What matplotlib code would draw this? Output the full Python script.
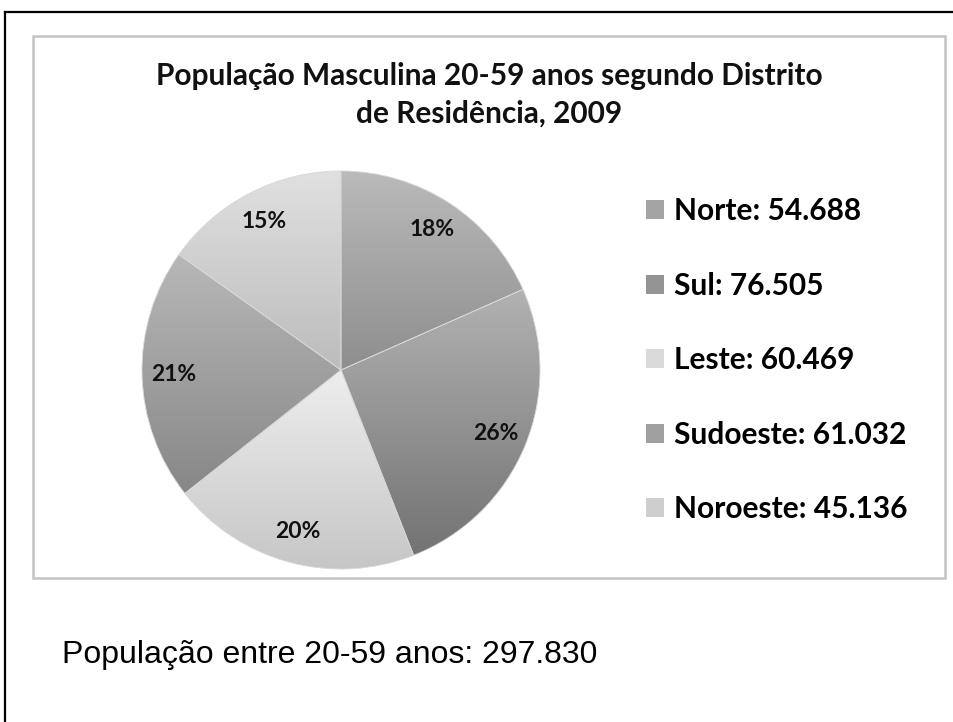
import numpy as np
import matplotlib
matplotlib.use("Agg")
import matplotlib.pyplot as plt
from matplotlib.patches import Rectangle, Patch
from matplotlib.colors import LinearSegmentedColormap
from matplotlib.lines import Line2D

# data
districts = ["Norte", "Sul", "Leste", "Sudoeste", "Noroeste"]
population = [54688, 76505, 60469, 61032, 45136]
pct_labels = ["18%", "26%", "20%", "21%", "15%"]  # as printed on the chart
total_label = "População entre 20-59 anos: 297.830"
title = "População Masculina 20-59 anos segundo Distrito\nde Residência, 2009"

# gradient (top colour, bottom colour) per slice
grad_top = ["#bababa", "#b2b2b2", "#eeeeee", "#b8b8b8", "#e0e0e0"]
grad_bot = ["#8e8e8e", "#737373", "#c6c6c6", "#878787", "#bcbcbc"]
legend_col = ["#a4a4a4", "#949494", "#dadada", "#a0a0a0", "#cecece"]

W, H = 954, 722
fig = plt.figure(figsize=(W / 100, H / 100), dpi=100)


def px(x, y):
    # pixel coords (top-left origin) -> figure fraction
    return x / W, 1 - y / H


# outer black frame (top and left edges)
fig.add_artist(Line2D([5 / W, 1], [1 - 12 / H, 1 - 12 / H], color="black", lw=1.6))
fig.add_artist(Line2D([5 / W, 5 / W], [0, 1 - 12 / H], color="black", lw=1.6))

# chart box
x0, y0 = px(33, 578)
fig.add_artist(Rectangle((x0, y0), (945 - 33) / W, (578 - 36) / H,
                         transform=fig.transFigure, fill=False,
                         edgecolor="#c4c4c4", lw=1.8))

# pie
cx, cy, r = 341, 370, 199
ax = fig.add_axes([(cx - r) / W, (H - cy - r) / H, 2 * r / W, 2 * r / H])
wedges, texts = ax.pie(population, labels=pct_labels, startangle=90, counterclock=False,
                       radius=1, labeldistance=0.84,
                       wedgeprops=dict(linewidth=0.6, edgecolor="#d8d8d8"),
                       textprops=dict(fontfamily="Lato", fontweight="bold",
                                      fontsize=16.5, color="#111111",
                                      ha="center", va="center"))

for i, w in enumerate(wedges):
    ang = np.radians(np.linspace(w.theta1, w.theta2, 200))
    xs = np.concatenate([[0], np.cos(ang)])
    ys = np.concatenate([[0], np.sin(ang)])
    cmap = LinearSegmentedColormap.from_list("g%d" % i, [grad_top[i], grad_bot[i]])
    grad = np.linspace(0, 1, 256).reshape(-1, 1)
    im = ax.imshow(grad, cmap=cmap, aspect="auto", origin="upper",
                   extent=[xs.min(), xs.max(), ys.min(), ys.max()], zorder=0.5)
    im.set_clip_path(w)
    w.set_facecolor("none")
    w.set_zorder(1)
for t in texts:
    t.set_horizontalalignment("center")
    t.set_zorder(3)
ax.set_xlim(-1, 1)
ax.set_ylim(-1, 1)
ax.axis("off")

# title
tx, ty = px(489, 95)
fig.text(tx, ty, title, ha="center", va="center", fontfamily="Lato",
         fontweight="bold", fontsize=21.5, linespacing=1.42, color="#111111")

# legend
labels = ["%s: %s" % (d, f"{v:,}".replace(",", ".")) for d, v in zip(districts, population)]
handles = [Patch(facecolor=c, edgecolor="none") for c in legend_col]
lx, ly = px(646, 197)
fig.legend(handles, labels, loc="upper left", bbox_to_anchor=(lx, ly),
           frameon=False, handlelength=0.6, handleheight=0.6, handletextpad=0.35,
           labelspacing=1.56, borderpad=0, borderaxespad=0,
           prop=dict(family="Lato", weight="bold", size=21.5))

# total text
bx, by = px(62, 655)
fig.text(bx, by, total_label, ha="left", va="center", fontfamily="Liberation Sans",
         fontsize=23, color="black")

fig.savefig("out.png", dpi=100)
